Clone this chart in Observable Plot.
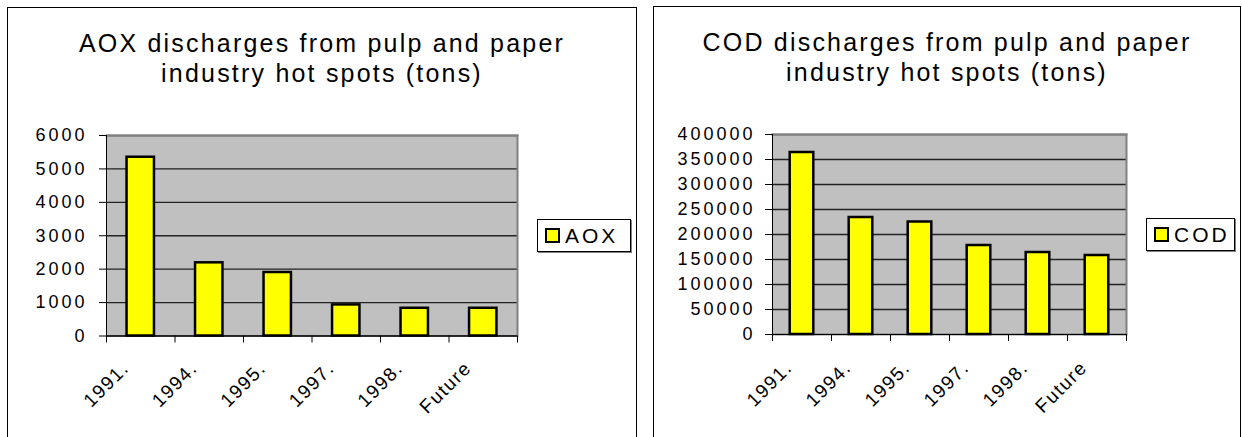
<!DOCTYPE html>
<html><head><meta charset="utf-8">
<script src="https://cdn.jsdelivr.net/npm/d3@7"></script>
<script src="https://cdn.jsdelivr.net/npm/@observablehq/plot@0.6"></script>
<style>
html,body{margin:0;padding:0;background:#fff}
body{width:1242px;height:437px;overflow:hidden;position:relative;font-family:"Liberation Sans",Arial,sans-serif;color:#000}
.box{position:absolute;border:1px solid #000;box-sizing:border-box}
.title{position:absolute;text-align:center;font-size:25px;letter-spacing:2.2px;line-height:30px;white-space:nowrap}
.legend{position:absolute;border:1px solid #000;box-shadow:1px 1px 0 #808080;background:#fff;box-sizing:border-box;display:flex;align-items:center;font-size:21px;letter-spacing:3px}
.sw{width:15px;height:15px;border:2px solid #000;background:#ffff00;box-sizing:border-box;margin:0 5px 0 7px;flex:none}
.chart{position:absolute}
.chart svg g[aria-label="text"] text{letter-spacing:1.5px}
</style></head><body>
<div class="box" style="left:7px;top:7px;width:630px;height:450px"></div>
<div class="box" style="left:653px;top:6px;width:588px;height:450px"></div>
<div class="title" style="left:7px;width:630px;top:28px">AOX discharges from pulp and paper<br>industry hot spots (tons)</div>
<div class="title" style="left:653px;width:588px;top:27px">COD discharges from pulp and paper<br>industry hot spots (tons)</div>
<div class="legend" style="left:537px;top:219px;width:94px;height:33px"><div class="sw"></div><span>AOX</span></div>
<div class="legend" style="left:1146px;top:218px;width:89px;height:33px"><div class="sw"></div><span>COD</span></div>
<div id="c1" class="chart" style="left:0px;top:100px"></div>
<div id="c2" class="chart" style="left:640px;top:100px"></div>
<script>
const categories = ["1991.", "1994.", "1995.", "1997.", "1998.", "Future"];
const aoxValues = [5350, 2190, 1900, 930, 830, 830];
const codValues = [364000, 234000, 225000, 178000, 164000, 158000];
const aoxTicks = [0, 1000, 2000, 3000, 4000, 5000, 6000];
const codTicks = [0, 50000, 100000, 150000, 200000, 250000, 300000, 350000, 400000];

function makeChart(values, ticks, opts) {
  const rows = categories.map((c, i) => ({category: c, i, value: values[i]}));
  const n = categories.length;
  const ymax = ticks[ticks.length - 1];
  return Plot.plot({
    width: opts.width, height: opts.height,
    marginLeft: opts.ml, marginRight: opts.mr, marginTop: opts.mt, marginBottom: opts.mb,
    style: {fontFamily: "Liberation Sans, Arial, sans-serif", fontSize: "18px", color: "#000", background: "transparent", overflow: "visible", letterSpacing: "3px"},
    x: {domain: [0, n], axis: null},
    y: {domain: [0, ymax], axis: null},
    marks: [
      Plot.frame({fill: "#c0c0c0", stroke: null}),
      Plot.ruleY(ticks, {stroke: "#222", strokeWidth: 1.3}),
      Plot.frame({anchor: "top", stroke: "#808080", strokeWidth: 2}),
      Plot.frame({anchor: "right", stroke: "#808080", strokeWidth: 2}),
      Plot.ruleX([0], {stroke: "#000", strokeWidth: 1}),
      Plot.ruleY([0], {stroke: "#000", strokeWidth: 1}),
      Plot.axisY(ticks, {label: null, tickSize: 7, tickPadding: opts.tp, tickFormat: d => String(d), fontSize: 18, stroke: "#000"}),
      Plot.axisX(d3.range(n + 1), {label: null, tickSize: 7, tickFormat: () => "", stroke: "#000"}),
      Plot.rectY(rows, {x1: d => d.i + 0.3, x2: d => d.i + 0.7, y: "value", fill: "#ffff00", stroke: "#000", strokeWidth: 2.5}),
      Plot.text(rows, {x: d => d.i + 0.5, y: () => 0, text: "category", rotate: -45, textAnchor: "end", dx: opts.ldx, dy: opts.ldy, fontSize: 19})
    ]
  });
}

document.getElementById("c1").append(makeChart(aoxValues, aoxTicks, {width: 640, height: 337, ml: 106, mr: 123, mt: 35, mb: 101.5, tp: 12, ldx: -15, ldy: 29}));
document.getElementById("c2").append(makeChart(codValues, codTicks, {width: 602, height: 337, ml: 132, mr: 116, mt: 34, mb: 103, tp: 10, ldx: -13, ldy: 30}));
</script>
</body></html>
